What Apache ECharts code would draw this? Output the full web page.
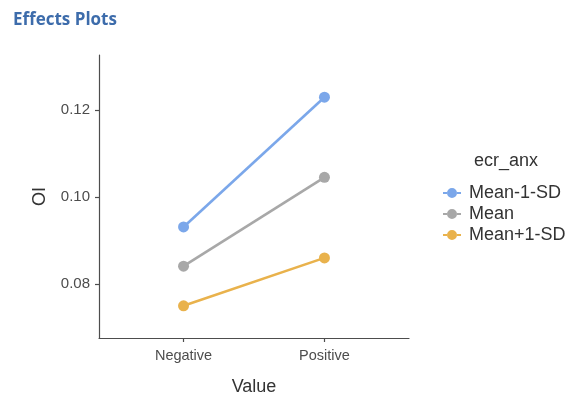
<!DOCTYPE html>
<html>
<head>
<meta charset="utf-8">
<script src="https://cdn.jsdelivr.net/npm/echarts@6/dist/echarts.min.js"></script>
<style>
  html, body { margin: 0; padding: 0; background: #fff; }
  #chart { width: 579px; height: 396px; }
</style>
</head>
<body>
<div id="chart"></div>
<script>
// Estimated marginal means of OI by Value, split by levels of ecr_anx
const categories = ['Negative', 'Positive'];
const seriesNames = ['Mean-1-SD', 'Mean', 'Mean+1-SD'];
const meanMinus1SD = [0.0931, 0.1229];
const meanValues = [0.0841, 0.1045];
const meanPlus1SD = [0.0750, 0.0860];
const yTicks = [0.08, 0.10, 0.12];

const colors = ['#7BA7EA', '#A8A8A8', '#E9B24C'];
const allValues = [meanMinus1SD, meanValues, meanPlus1SD];

// point-and-line key glyph
const legendIcon = 'path://M0,4H4V6H0Z M14,4H18V6H14Z M14,5A5,5 0 1,1 4,5A5,5 0 1,1 14,5Z';
const fontFam = '"Liberation Sans", Arial, sans-serif';

const chart = echarts.init(document.getElementById('chart'), null, { renderer: 'canvas' });

chart.setOption({
  animation: false,
  backgroundColor: '#ffffff',
  title: [
    {
      text: 'Effects Plots',
      left: 8, top: 7,
      textStyle: { color: '#3D6CAB', fontSize: 17, fontWeight: 'bold', fontFamily: '"Open Sans", "Noto Sans", sans-serif' }
    },
    {
      text: 'ecr_anx',
      left: 469, top: 147,
      textStyle: { color: '#333333', fontSize: 18, fontWeight: 'normal', fontFamily: fontFam }
    }
  ],
  grid: { left: 99, top: 55, right: 170, bottom: 58, containLabel: false, outerBoundsMode: 'none' },
  xAxis: {
    type: 'value',
    min: -0.6, max: 1.6,
    name: 'Value',
    nameLocation: 'middle',
    nameGap: 40,
    nameTextStyle: { color: '#333333', fontSize: 18, fontFamily: fontFam },
    splitLine: { show: false },
    axisLine: { show: true, onZero: false, lineStyle: { color: '#4D4D4D', width: 1.2 } },
    axisTick: { show: true, customValues: [0, 1], length: 4, lineStyle: { color: '#4D4D4D', width: 1.2 } },
    axisLabel: {
      customValues: [0, 1],
      formatter: v => categories[Math.round(v)] || '',
      color: '#4D4D4D', fontSize: 14.5, margin: 10, fontFamily: fontFam
    }
  },
  yAxis: {
    type: 'value',
    min: 0.0676, max: 0.1326,
    name: 'OI',
    nameLocation: 'middle',
    nameGap: 50,
    nameRotate: 90,
    nameTextStyle: { color: '#333333', fontSize: 18, fontFamily: fontFam },
    splitLine: { show: false },
    axisLine: { show: true, onZero: false, lineStyle: { color: '#4D4D4D', width: 1.2 } },
    axisTick: { show: true, customValues: yTicks, length: 4, lineStyle: { color: '#4D4D4D', width: 1.2 } },
    axisLabel: {
      customValues: yTicks,
      formatter: v => v.toFixed(2),
      color: '#4D4D4D', fontSize: 15, margin: 9, fontFamily: fontFam
    }
  },
  legend: {
    orient: 'vertical',
    left: 438, top: 179,
    itemWidth: 18, itemHeight: 10,
    itemGap: 3,
    icon: legendIcon,
    data: seriesNames,
    textStyle: { color: '#333333', fontSize: 18, fontFamily: fontFam, padding: [0, 0, 0, 3] }
  },
  series: seriesNames.map((name, i) => ({
    name: name,
    type: 'line',
    data: allValues[i].map((v, j) => [j, v]),
    symbol: 'circle',
    symbolSize: 11,
    itemStyle: { color: colors[i] },
    lineStyle: { color: colors[i], width: 2.6 },
    z: 3 - i
  }))
});
</script>
</body>
</html>
